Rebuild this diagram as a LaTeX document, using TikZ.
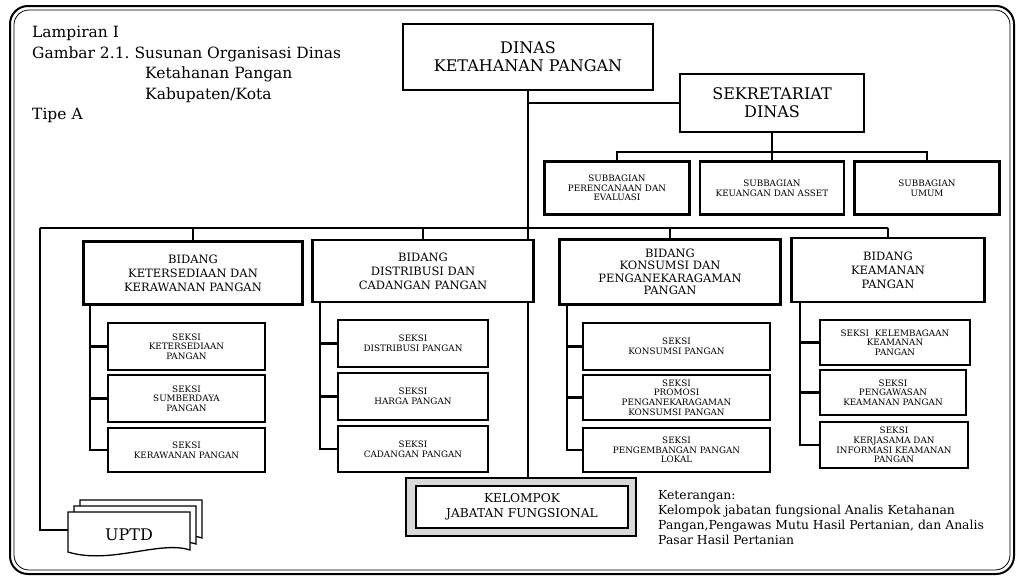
\documentclass[tikz,border=0pt]{standalone}
\usepackage{fontspec}
\setmainfont{DejaVu Serif}
\begin{document}
\begin{tikzpicture}[x=1pt,y=-1pt,
 box/.style={draw,line width=2.6pt,fill=white,align=center,inner sep=1pt},
 ln/.style={line width=2.6pt},
 big/.style={font=\fontsize{16}{18}\selectfont},
 mid/.style={font=\fontsize{11.5}{14}\selectfont},
 sm/.style={font=\fontsize{8.8}{9.6}\selectfont}]
\useasboundingbox (0,0) rectangle (1024,576);
\draw[line width=2pt,rounded corners=18pt] (10,6) rectangle (1014,574);
\draw[line width=0.8pt,rounded corners=15pt] (14,10) rectangle (1010,570);
% title
\node[anchor=north west,align=left,font=\fontsize{15.5}{20.5}\selectfont,inner sep=0pt] (title) at (32,26)
 {Lampiran I\\Gambar 2.1.\ Susunan Organisasi Dinas\\\hspace*{113pt}Ketahanan Pangan\\\hspace*{113pt}Kabupaten/Kota\\Tipe A};
% top
\node[box,big,minimum width=250pt,minimum height=66pt] (dinas) at (528,57) {DINAS\\KETAHANAN PANGAN};
\node[box,big,minimum width=184pt,minimum height=58pt] (sek) at (772,103) {SEKRETARIAT\\DINAS};
\coordinate (jt) at (528,103);
\coordinate (bt) at (528,228);
\draw[ln] (dinas.south) -- (528,478);
\draw[ln] (jt) -- (sek.west);
% subbagian
\node[box,sm,minimum width=145pt,minimum height=53pt] (s1) at (617,188) {SUBBAGIAN\\PERENCANAAN DAN\\EVALUASI};
\node[box,sm,minimum width=144pt,minimum height=53pt] (s2) at (772,188) {SUBBAGIAN\\KEUANGAN DAN ASSET};
\node[box,sm,minimum width=145pt,minimum height=53pt] (s3) at (927,188) {SUBBAGIAN\\UMUM};
\draw[ln] (sek.south) -- (772,152) coordinate (sj);
\draw[ln] (s1.north) |- (sj) -| (s3.north);
\draw[ln] (sj) -- (s2.north);
% bidang
\node[box,mid,minimum width=219pt,minimum height=63pt] (b1) at (193,273) {BIDANG\\KETERSEDIAAN DAN\\KERAWANAN PANGAN};
\node[box,mid,minimum width=221pt,minimum height=62pt] (b2) at (423,271) {BIDANG\\DISTRIBUSI DAN\\CADANGAN PANGAN};
\node[box,mid,minimum width=221pt,minimum height=65pt,font=\fontsize{11.5}{12.5}\selectfont] (b3) at (670,272) {BIDANG\\KONSUMSI DAN\\PENGANEKARAGAMAN\\PANGAN};
\node[box,mid,minimum width=193pt,minimum height=64pt] (b4) at (888,270) {BIDANG\\KEAMANAN\\PANGAN};
\coordinate (ul) at (40,228);
\draw[ln] (ul) -- (888,228);
\foreach \b in {b1,b2,b3,b4} \draw[ln] (\b.north|-bt) -- (\b.north);
% UPTD
\foreach \d in {12,6,0}{
 \draw[line width=1.3pt,fill=white] (68+\d,512-\d) -- (190+\d,512-\d) -- (190+\d,550-\d) .. controls (160+\d,540-\d) and (110+\d,565-\d) .. (68+\d,552-\d) -- cycle;}
\node[font=\fontsize{16}{17}\selectfont] (uptd) at (129,535) {UPTD};
\coordinate (ue) at (68,530);
\draw[ln] (ul) |- (ue);
% seksi
\newcommand{\sk}[5]{\node[box,sm,minimum width=#3pt,minimum height=#4pt] (#1) at #2 {#5};}
\sk{a1}{(186.5,346.5)}{157}{47}{SEKSI\\KETERSEDIAAN\\PANGAN}
\sk{a2}{(186.5,398.5)}{157}{47}{SEKSI\\SUMBERDAYA\\PANGAN}
\sk{a3}{(186.5,450)}{157}{44}{SEKSI\\KERAWANAN PANGAN}
\sk{c1}{(413,343.5)}{150}{47}{SEKSI\\DISTRIBUSI PANGAN}
\sk{c2}{(413,396.5)}{150}{47}{SEKSI\\HARGA PANGAN}
\sk{c3}{(413,449)}{150}{46}{SEKSI\\CADANGAN PANGAN}
\sk{d1}{(676.5,346.5)}{187}{47}{SEKSI\\KONSUMSI PANGAN}
\sk{d2}{(676.5,397.5)}{187}{45}{SEKSI\\PROMOSI\\PENGANEKARAGAMAN\\KONSUMSI PANGAN}
\sk{d3}{(676.5,450)}{187}{44}{SEKSI\\PENGEMBANGAN PANGAN\\LOKAL}
\sk{e1}{(895,342.5)}{150}{45}{SEKSI\ \ KELEMBAGAAN\\KEAMANAN\\PANGAN}
\sk{e2}{(893,392.5)}{146}{45}{SEKSI\\PENGAWASAN\\KEAMANAN PANGAN}
\sk{e3}{(894,445)}{148}{46}{SEKSI\\KERJASAMA DAN\\INFORMASI KEAMANAN\\PANGAN}
\draw[ln] (90,305) |- (a3.west);
\draw[ln] (90,346.5) -- (a1.west); \draw[ln] (90,398.5) -- (a2.west);
\draw[ln] (320,302) |- (c3.west);
\draw[ln] (320,343.5) -- (c1.west); \draw[ln] (320,396.5) -- (c2.west);
\draw[ln] (567,305) |- (d3.west);
\draw[ln] (567,346.5) -- (d1.west); \draw[ln] (567,397.5) -- (d2.west);
\draw[ln] (800,302) |- (e3.west);
\draw[ln] (800,342.5) -- (e1.west); \draw[ln] (800,392.5) -- (e2.west);
% kelompok
\draw[line width=1.5pt,fill=gray!30] (406,478) rectangle (636,536);
\node[box,line width=2pt,font=\fontsize{12.2}{15}\selectfont,minimum width=212pt,minimum height=42pt] (kel) at (522,507) {KELOMPOK\\JABATAN FUNGSIONAL};
\node[anchor=north west,align=left,font=\fontsize{12.4}{15}\selectfont,inner sep=0pt] (ket) at (658,490)
 {Keterangan:\\Kelompok jabatan fungsional Analis Ketahanan\\Pangan,Pengawas Mutu Hasil Pertanian, dan Analis\\Pasar Hasil Pertanian};
\end{tikzpicture}
\end{document}
